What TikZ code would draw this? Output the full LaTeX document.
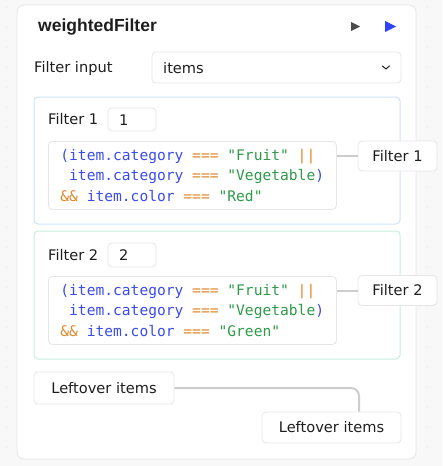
\documentclass[tikz,border=0pt]{standalone}
\usepackage{fontspec}
\setmainfont{DejaVu Sans}
\setsansfont{DejaVu Sans}
\setmonofont{DejaVu Sans Mono}
\newfontfamily\titlefont{Liberation Sans}
\usetikzlibrary{shapes,shapes.misc}
\definecolor{pagebg}{HTML}{F8F8F8}
\definecolor{dotgrey}{HTML}{E4E4E4}
\definecolor{edge}{HTML}{E6E6E6}
\definecolor{txt}{HTML}{1E1E1E}
\definecolor{edgeone}{HTML}{CFE2FA}
\definecolor{edgetwo}{HTML}{C9EEDF}
\definecolor{cid}{HTML}{3B4CEB}
\definecolor{cop}{HTML}{E0872A}
\definecolor{cstr}{HTML}{2F9A4A}
\definecolor{wiregrey}{HTML}{CDCDCD}
\definecolor{playblue}{HTML}{2F45F5}
\newcommand\cId[1]{\textcolor{cid}{#1}}
\newcommand\cOp[1]{\textcolor{cop}{#1}}
\newcommand\cStr[1]{\textcolor{cstr}{#1}}
\newcommand\cSp{\hspace*{0.602em}}

\begin{document}
\begin{tikzpicture}[x=1pt,y=-1pt,
	  every node/.style={font=\sffamily\fontsize{14.6}{17}\selectfont,text=txt},
	  box/.style={draw=edge,fill=white,rounded corners=4pt,line width=0.8pt,inner sep=0pt},
	  panel/.style={rounded corners=4pt,line width=1pt,fill=white,inner sep=0pt},
	  code/.style={box,font=\ttfamily\fontsize{14.6}{20.5}\selectfont,align=left,inner xsep=12pt,anchor=north west},
	  wire/.style={draw=wiregrey,line width=2pt,rounded corners=8pt}]
	  \tikzstyle{lbl} = [anchor=west,inner sep=0pt]
	  \useasboundingbox (0,0) rectangle (442,466);
	  \fill[pagebg] (0,0) rectangle (442,466);
	  \foreach \i in {0,...,22} {\foreach \j in {0,...,23} {\fill[dotgrey] (7+20*\i,7+20*\j) circle (0.7pt);}}
	  \node (card) [box,rounded corners=7pt,minimum width=399pt,minimum height=454pt] at (216.5,232) {};
	  \node (title) [lbl,font=\titlefont\bfseries\fontsize{17.5}{20}\selectfont] at (38,27.5) {weightedFilter};
	  \fill[txt!80] (351,22) -- (360,26.5) -- (351,31) -- cycle;
	  \fill[playblue] (385,21) -- (396,26.5) -- (385,32) -- cycle;
	  \node (inlbl) [lbl] at (34,68) {Filter input};
	  \node (drop) [box,minimum width=249pt,minimum height=31pt] at (276.5,67.5) {};
	  \node (dropval) [lbl] at (163,68) {items};
	  \draw[txt,line width=1pt,line cap=round,line join=round] (drop.east) ++(-19,-1.5) -- ++(3.5,3) -- ++(3.5,-3);
	  \node (p_1) [panel,draw=edgeone,minimum width=366pt,minimum height=127pt] at (217,160.5) {};
	  \node (n_1) [lbl] at (48,119.5) {Filter 1};
	  \node (w_1) [box,minimum width=48pt,minimum height=23pt] at (132,119.5) {};
	  \node [lbl] at (119,120) {1};
	  \node (c_1) [code,text width=264pt,minimum width=288pt,minimum height=68pt] at (48,141)
	    {\cId{(item.category}\cSp\cOp{===}\cSp\cStr{"Fruit"}\cSp\cOp{||}\\
	     \cSp\cId{item.category}\cSp\cOp{===}\cSp\cStr{"Vegetable}\cId{)}\\
	     \cOp{\&\&}\cSp\cId{item.color}\cSp\cOp{===}\cSp\cStr{"Red"}};
	  \node (o_1) [box,minimum width=79pt,minimum height=30pt] at (397.5,156) {Filter 1};
	  \draw[wire] (o_1.west) -- (o_1.west -| c_1.east);
	  \node (p_2) [panel,draw=edgetwo,minimum width=366pt,minimum height=128pt] at (217,295) {};
	  \node (n_2) [lbl] at (48,255) {Filter 2};
	  \node (w_2) [box,minimum width=48pt,minimum height=24pt] at (132,255) {};
	  \node [lbl] at (119,255.5) {2};
	  \node (c_2) [code,text width=264pt,minimum width=288pt,minimum height=68pt] at (48,276)
	    {\cId{(item.category}\cSp\cOp{===}\cSp\cStr{"Fruit"}\cSp\cOp{||}\\
	     \cSp\cId{item.category}\cSp\cOp{===}\cSp\cStr{"Vegetable}\cId{)}\\
	     \cOp{\&\&}\cSp\cId{item.color}\cSp\cOp{===}\cSp\cStr{"Green"}};
	  \node (o_2) [box,minimum width=79pt,minimum height=30pt] at (397.5,290.5) {Filter 2};
	  \draw[wire] (o_2.west) -- (o_2.west -| c_2.east);
	  \node (left_1) [box,minimum width=140pt,minimum height=32pt] at (104,388) {Leftover items};
	  \node (left_2) [box,minimum width=139pt,minimum height=31pt] at (331.5,427.5) {Leftover items};
	  \coordinate (left_in) at ([xshift=27.5pt]left_2.north);
	  \draw[wire] (left_1.east) -- (left_1.east -| left_in) -- (left_in);
\end{tikzpicture}
\end{document}
